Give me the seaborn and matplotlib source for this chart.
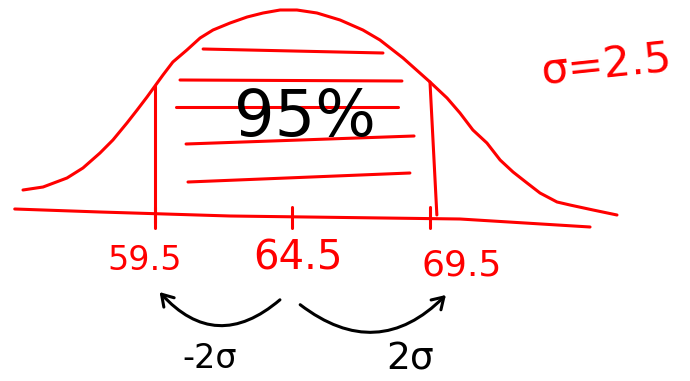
import numpy as np
import pandas as pd
import matplotlib.pyplot as plt
import seaborn as sns
from matplotlib.patches import FancyArrowPatch

sns.set_theme(style="white")
plt.rcParams['font.family'] = ['DejaVu Sans']

# -----------------------------
# Data
# -----------------------------
mean = 64.5
sigma = 2.5
bound_labels = ["59.5", "64.5", "69.5"]
bound_values = [59.5, 64.5, 69.5]

# hand drawn bell curve (x value, height above the base line)
curve_x = [54.7, 55.43, 56.3, 56.88, 57.5, 57.97, 58.48, 58.85, 59.21, 59.5,
           59.79, 60.15, 60.66, 61.14, 61.61, 62.23, 62.85, 63.43, 64.05, 64.66,
           65.39, 66.23, 67.06, 67.68, 68.52, 69.5, 70.12, 70.59, 71.06, 71.57,
           72.05, 72.52, 73.03, 73.5, 74.12, 74.59, 75.43, 76.3]
curve_h = [25, 28, 37, 47, 62, 75, 92, 105, 118, 129,
           140, 153, 165, 177, 185, 192, 198, 202, 205, 205,
           202, 195, 185, 175, 157, 133, 117, 102, 85, 72,
           55, 43, 32, 22, 13, 10, 5, 0]

# slightly slanted base line
base_x = [54.4, 57.5, 62.23, 70.59, 75.32]
base_h = [6, 3, -1, -4, -12]

# shading strokes inside the 95% area
hatch_x0 = [61.25, 60.41, 60.26, 60.63, 60.7]
hatch_x1 = [67.79, 68.48, 68.34, 68.92, 68.77]
hatch_h0 = [166, 135, 108, 71, 33]
hatch_h1 = [162, 134, 108, 79, 42]

# vertical bounds at +-2 sigma
bound_top = [129, 133]
bound_bottom = [-8, 0]

RED = '#ff0000'
LW = 2.2

fig = plt.figure(figsize=(6.9, 3.81), dpi=100)
ax = fig.add_axes([0, 0, 1, 1])
ax.set_xlim(53.864, 78.955)
ax.set_ylim(-166, 215)
ax.axis('off')

# curve and base line
sns.lineplot(x=curve_x, y=curve_h, color=RED, lw=LW, ax=ax, sort=False)
sns.lineplot(x=base_x, y=base_h, color=RED, lw=LW, ax=ax, sort=False)

# bounds
ax.plot([bound_values[0], bound_values[0]], [bound_top[0], bound_bottom[0]], color=RED, lw=LW)
ax.plot([bound_values[2], bound_values[2] + 0.25], [bound_top[1], bound_bottom[1]], color=RED, lw=LW)

# tick marks on the base line
for v in bound_values:
    ax.plot([v, v], [8, -13], color=RED, lw=LW)

# shading strokes
for x0, x1, h0, h1 in zip(hatch_x0, hatch_x1, hatch_h0, hatch_h1):
    ax.plot([x0, x1], [h0, h1], color=RED, lw=LW)

# labels under the axis
label_offsets = [-0.36, 0.2, 1.16]
label_h = [-45, -43, -50]
label_size = [24, 29, 26]
for v, lab, dx, h, fs in zip(bound_values, bound_labels, label_offsets, label_h, label_size):
    ax.text(v + dx, h, lab, color=RED, fontsize=fs, ha='center', va='center')

ax.text(64.95, 97, "95%", color='black', fontsize=46, ha='center', va='center')
ax.text(75.94, 149, f"σ={sigma}", color=RED, fontsize=31, ha='center', va='center', rotation=6)

# curved arrows for the two sigma steps
left_arrow = FancyArrowPatch((64.12, -83), (59.6, -75), connectionstyle="arc3,rad=-0.5",
                             arrowstyle="->,head_length=8,head_width=5", color='black', lw=LW)
right_arrow = FancyArrowPatch((64.7, -88), (70.15, -78), connectionstyle="arc3,rad=0.45",
                              arrowstyle="->,head_length=8,head_width=5", color='black', lw=LW)
ax.add_patch(left_arrow)
ax.add_patch(right_arrow)

ax.text(61.5, -143, "-2σ", color='black', fontsize=24, ha='center', va='center')
ax.text(68.77, -145, "2σ", color='black', fontsize=27, ha='center', va='center')

fig.savefig("out.png", dpi=100, facecolor='white')
